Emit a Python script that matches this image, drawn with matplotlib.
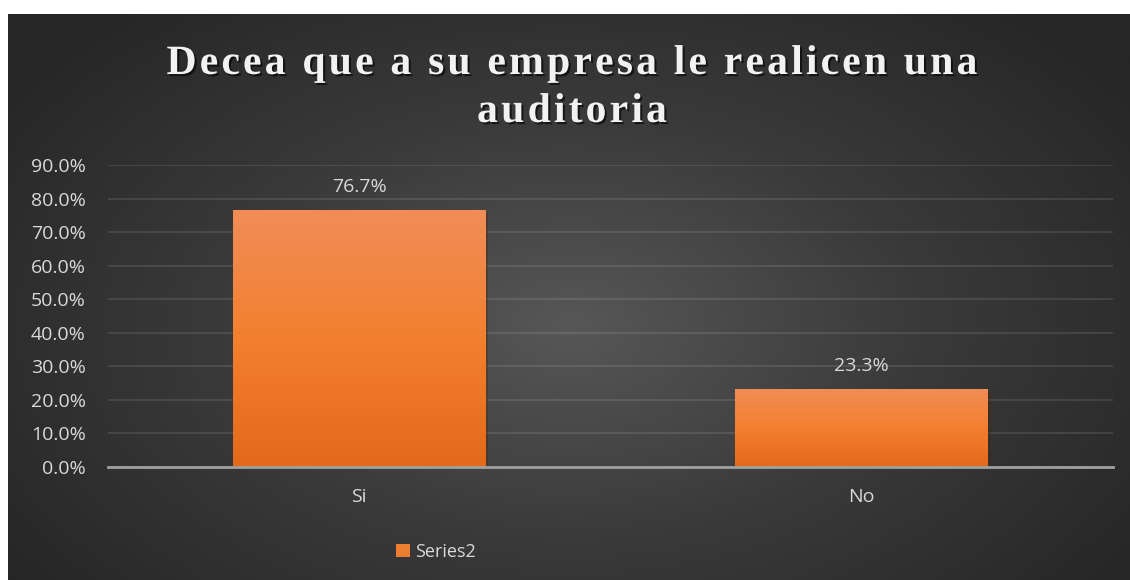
import matplotlib.pyplot as plt
import numpy as np
from matplotlib import patheffects
from matplotlib.patches import Patch
from matplotlib.colors import LinearSegmentedColormap

categories = ['Si', 'No']
values = [76.7, 23.3]
labels = ['76.7%', '23.3%']
yticks = [0, 10, 20, 30, 40, 50, 60, 70, 80, 90]
title_lines = ['Decea que a su empresa le realicen una', 'auditoria']
series_name = 'Series2'

W, H = 1130, 580
fig = plt.figure(figsize=(W / 100, H / 100), dpi=100)
fig.patch.set_facecolor('white')

# dark radial gradient background of the chart area
bg = fig.add_axes([8 / W, 0, (W - 8) / W, (H - 14) / H])
bg.set_axis_off()
ny, nx = 300, 600
yy, xx = np.mgrid[0:ny, 0:nx]
r = np.sqrt(((xx - nx * 0.5) / (nx * 0.62)) ** 2 + ((yy - ny * 0.55) / (ny * 0.75)) ** 2)
r = np.clip(r, 0, 1)
bg_cmap = LinearSegmentedColormap.from_list('bg', ['#575757', '#3a3a3a', '#262626'])
bg.imshow(r, cmap=bg_cmap, vmin=0, vmax=1, aspect='auto', extent=[0, 1, 0, 1])
bg.set_xlim(0, 1)
bg.set_ylim(0, 1)

ax = fig.add_axes([108 / W, (H - 467) / H, (1113 - 108) / W, (467 - 165) / H])
ax.set_facecolor('none')
x = np.arange(len(categories))
bars = ax.bar(x, values, width=0.503, color='#ed7d31', zorder=3)

bar_cmap = LinearSegmentedColormap.from_list('bar', ['#e4691b', '#f3802f', '#f18d58'])
grad = np.linspace(0, 1, 256).reshape(-1, 1)
for b in bars:
    b.set_path_effects([patheffects.SimplePatchShadow(offset=(2, -2), alpha=0.35),
                        patheffects.Normal()])
    im = ax.imshow(grad, cmap=bar_cmap, aspect='auto', origin='lower', zorder=4,
                   extent=[b.get_x(), b.get_x() + b.get_width(), 0, b.get_height()])
    im.set_clip_path(b)

for xi, v, lab in zip(x, values, labels):
    ax.annotate(lab, (xi, v), xytext=(0, 10), textcoords='offset points',
                ha='center', va='bottom', color='#d9d9d9', fontsize=14,
                family='Open Sans', zorder=5)

ax.set_xlim(-0.5, 1.5)
ax.set_ylim(0, 90)
ax.set_yticks(yticks)
ax.set_yticklabels([f'{t:.1f}%' for t in yticks])
ax.set_xticks(x)
ax.set_xticklabels(categories)
ax.tick_params(axis='y', length=0, pad=16, labelsize=14, labelcolor='#d9d9d9')
ax.tick_params(axis='x', length=0, pad=15, labelsize=14, labelcolor='#d9d9d9')
for t in ax.get_xticklabels() + ax.get_yticklabels():
    t.set_family('Open Sans')
ax.grid(axis='y', color='white', alpha=0.1, linewidth=1.5, zorder=0)
for s in ['top', 'right', 'left']:
    ax.spines[s].set_visible(False)
ax.spines['bottom'].set_color('#a0a0a0')
ax.spines['bottom'].set_linewidth(2)
ax.spines['bottom'].set_zorder(6)

# title with letter spacing: place characters one by one
renderer = fig.canvas.get_renderer()
title_kw = dict(fontsize=30, family='Liberation Serif', fontweight='bold', color='#f2f2f2',
                va='baseline', ha='left',
                path_effects=[patheffects.withSimplePatchShadow(offset=(1.5, -1.5),
                                                                shadow_rgbFace='black', alpha=0.6)])
tracking = 3.2
for line, base_y in zip(title_lines, [74, 122]):
    widths = []
    for ch in line:
        if ch == ' ':
            t = fig.text(0, 0, 'a a', **title_kw)
            wa = fig.text(0, 0, 'aa', **title_kw)
            widths.append(t.get_window_extent(renderer).width - wa.get_window_extent(renderer).width)
            t.remove()
            wa.remove()
        else:
            t = fig.text(0, 0, ch, **title_kw)
            widths.append(t.get_window_extent(renderer).width)
            t.remove()
    total = sum(widths) + tracking * (len(line) - 1)
    cx = 572 - total / 2
    for ch, w in zip(line, widths):
        if ch != ' ':
            fig.text(cx / W, (H - base_y) / H, ch, **title_kw)
        cx += w + tracking

leg = fig.legend([Patch(facecolor='#ed7d31')], [series_name], loc='center',
                 bbox_to_anchor=(436 / W, (H - 552) / H), frameon=False,
                 handlelength=0.75, handleheight=0.75, handletextpad=0.3,
                 prop={'family': 'Open Sans', 'size': 13})
for t in leg.get_texts():
    t.set_color('#d9d9d9')

fig.savefig('out.png', dpi=100)
